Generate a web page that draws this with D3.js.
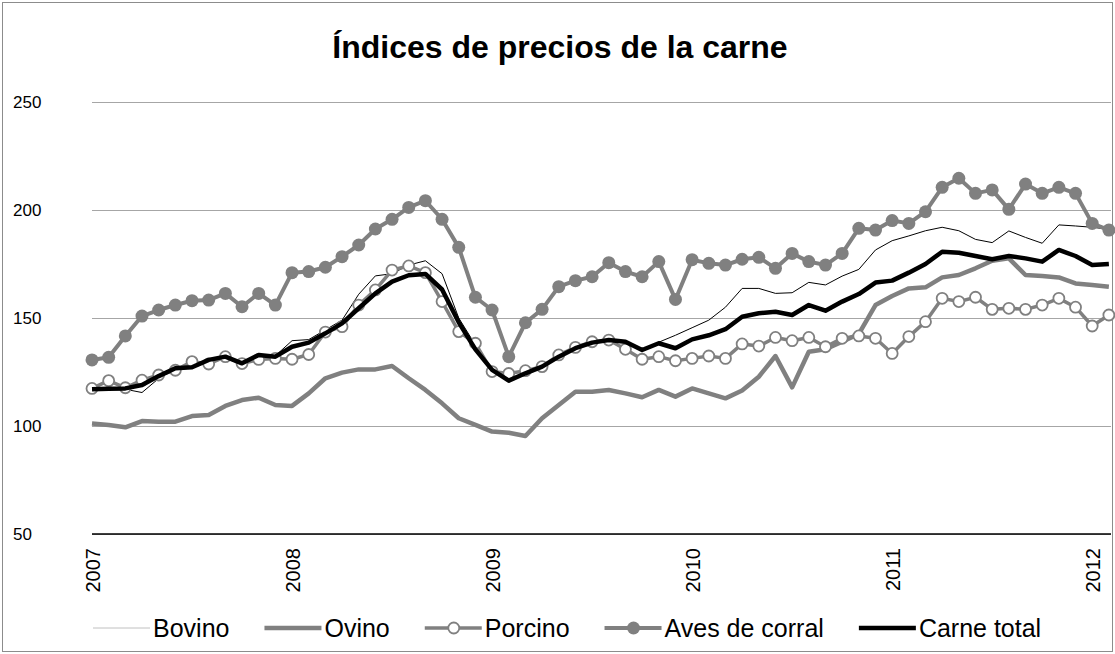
<!DOCTYPE html>
<html>
<head>
<meta charset="utf-8">
<script src="https://cdn.jsdelivr.net/npm/d3@7"></script>
<style>
  body { margin: 0; background: #fff; }
  text { font-family: "Liberation Sans", Arial, sans-serif; }
</style>
</head>
<body>
<div id="canvas"></div>
<script>
// monthly index values, Jan 2007 - Feb 2012
const yearLabels = ["2007", "2008", "2009", "2010", "2011", "2012"];
const yTicks = [50, 100, 150, 200, 250];

const bovino = [117, 117.5, 117, 115.5, 122, 126.5, 127.5, 130.5, 132, 129.5, 133, 132.5, 139.5,
  140, 144.5, 149, 161, 169.5, 170.5, 174.5, 176.5, 170.5, 150, 137.5, 126.5,
  121, 124.5, 128, 132.5, 136.5, 139, 140, 139, 135.5, 138.8, 142,
  145.5, 149, 155, 163.7, 163.7, 161.4, 161.7, 166.5, 165.3, 169.4, 172.5, 181.5, 185.8,
  188, 190.4, 192, 190.4, 186.4, 184.9, 190.3, 187.3, 184.6, 193.1, 192.6, 192, 191.1];

const ovino = [101.2, 100.5, 99.4, 102.3, 102, 102, 104.6, 105.1, 109.3, 112, 113.1, 109.7, 109.3,
  115.1, 122.1, 124.7, 126.2, 126.2, 127.8, 122.1, 116.7, 110.5, 103.6, 100.5, 97.4,
  96.9, 95.4, 103.6, 109.7, 115.9, 115.9, 116.7, 115.1, 113.3, 116.7, 113.6,
  117.4, 115.1, 112.8, 116.4, 122.8, 132.4, 117.9, 134.4, 135.5, 139, 142.6, 156, 160.2,
  163.7, 164.2, 168.8, 169.9, 173, 176.5, 177.6, 169.9, 169.4, 168.8, 166, 165.3, 164.5];

const porcino = [117.4, 121, 117.7, 121.2, 123.6, 125.8, 129.8, 128.7, 132.1, 128.9, 130.8, 131.3, 130.9,
  133.1, 143.5, 146, 156, 163, 172.2, 174.1, 171, 157.6, 143.7, 138.3, 125.2,
  124.3, 125.6, 127.5, 132.9, 136.4, 139, 139.8, 135.5, 130.9, 132.1, 130.2,
  131.3, 132.4, 131.3, 138, 137, 141, 139.5, 141, 136.7, 140.6, 141.7, 140.6, 133.6,
  141.4, 148.3, 159.1, 157.6, 159.6, 154, 154.5, 154, 156, 159.1, 155, 146.3, 151.4];

const aves = [130.6, 131.8, 141.7, 150.9, 153.7, 156, 158, 158.3, 161.4, 155.2, 161.4, 156, 171,
  171.5, 173.5, 178.4, 183.8, 191.2, 195.7, 201.2, 204.3, 195.7, 182.7, 159.6, 153.7,
  132.1, 147.8, 154, 164.5, 167.3, 169.1, 175.6, 171.5, 169.1, 176.1, 158.6,
  177, 175.3, 174.5, 177.2, 178.1, 173, 179.9, 176.1, 174.5, 179.9, 191.5, 190.7, 195.1,
  193.8, 199.2, 210.5, 214.7, 207.7, 209.3, 200.3, 212, 207.7, 210.5, 207.7, 193.8, 190.7];

const carneTotal = [117, 117.3, 117.4, 119, 123.1, 126.7, 127.2, 130.6, 132.1, 129, 132.9, 132.1, 136.7,
  138.6, 142.9, 147.5, 154.5, 161.4, 166.8, 169.8, 170.4, 163.2, 148, 135.5, 126,
  121, 124.4, 127.5, 132.1, 136, 138.6, 139.8, 139, 135.2, 138.3, 136,
  140.1, 142, 144.8, 150.6, 152.2, 152.9, 151.4, 156, 153.4, 157.6, 161.1, 166.4, 167.3,
  171, 175, 180.7, 180.2, 178.7, 177.2, 178.7, 177.6, 176.1, 181.5, 178.7, 174.5, 175];

const seriesNames = ["Bovino", "Ovino", "Porcino", "Aves de corral", "Carne total"];
const seriesData = [bovino, ovino, porcino, aves, carneTotal];

const width = 1115, height = 654;
const margin = { top: 102, right: 6, bottom: 120, left: 92 };
const grey = "#808080";

const styles = [
  { stroke: "#000", width: 1, marker: null },
  { stroke: grey, width: 4.5, marker: null },
  { stroke: grey, width: 3.5, marker: "open" },
  { stroke: grey, width: 4, marker: "filled" },
  { stroke: "#000", width: 4.5, marker: null }
];

const svg = d3.select("#canvas").append("svg")
  .attr("width", width)
  .attr("height", height);

svg.append("rect")
  .attr("x", 2.5).attr("y", 2.5)
  .attr("width", width - 5).attr("height", height - 5)
  .attr("fill", "#fff")
  .attr("stroke", "#8c8c8c");

svg.append("text")
  .attr("x", 560).attr("y", 58)
  .attr("text-anchor", "middle")
  .attr("font-size", 32)
  .attr("font-weight", "bold")
  .text("Índices de precios de la carne");

const x = d3.scaleLinear()
  .domain([0, bovino.length - 1])
  .range([margin.left, margin.left + 61 * 16.67]);

const y = d3.scaleLinear()
  .domain([50, 250])
  .range([534, 102]);

// y axis + gridlines
const yAxis = svg.append("g")
  .attr("transform", `translate(${margin.left},0)`)
  .call(d3.axisLeft(y).tickValues(yTicks).tickSize(-(width - margin.left - 4)));
yAxis.select(".domain").remove();
yAxis.selectAll(".tick line").attr("stroke", "#a6a6a6");
yAxis.selectAll(".tick text")
  .attr("font-size", 17)
  .attr("fill", "#000")
  .attr("text-anchor", "start")
  .attr("x", -79);

// x axis
const xAxis = svg.append("g")
  .attr("transform", `translate(0,${y(50)})`)
  .call(d3.axisBottom(x).tickValues([0, 12, 24, 36, 48, 60]).tickFormat((d, i) => yearLabels[i]).tickSize(0));
xAxis.select(".domain")
  .attr("d", `M${margin.left},0H${width - 4}`)
  .attr("stroke", "#000")
  .attr("stroke-width", 1.5);
xAxis.selectAll(".tick text")
  .attr("font-size", 20)
  .attr("fill", "#000")
  .attr("transform", "rotate(-90)")
  .attr("text-anchor", "end")
  .attr("x", -14)
  .attr("y", 0)
  .attr("dy", "0.35em");

const line = d3.line()
  .x((d, i) => x(i))
  .y(d => y(d));

seriesData.forEach((data, k) => {
  const st = styles[k];
  svg.append("path")
    .datum(data)
    .attr("fill", "none")
    .attr("stroke", st.stroke)
    .attr("stroke-width", st.width)
    .attr("stroke-linejoin", "round")
    .attr("d", line);

  if (st.marker) {
    svg.append("g").selectAll("circle")
      .data(data)
      .enter().append("circle")
      .attr("cx", (d, i) => x(i))
      .attr("cy", d => y(d))
      .attr("r", st.marker === "open" ? 5.5 : 6.5)
      .attr("fill", st.marker === "open" ? "#fff" : grey)
      .attr("stroke", grey)
      .attr("stroke-width", st.marker === "open" ? 1.8 : 0);
  }
});

// legend, laid out left to right from text widths
const legendY = 628;
let lx = 93;
seriesNames.forEach((name, k) => {
  const st = styles[k];
  const g = svg.append("g").attr("transform", `translate(${lx},${legendY})`);
  g.append("line")
    .attr("x1", 0).attr("x2", 57)
    .attr("stroke", k === 0 ? "#c0c0c0" : st.stroke)
    .attr("stroke-width", st.width);
  if (st.marker) {
    g.append("circle")
      .attr("cx", 29).attr("cy", 0)
      .attr("r", st.marker === "open" ? 5.5 : 6.5)
      .attr("fill", st.marker === "open" ? "#fff" : grey)
      .attr("stroke", grey)
      .attr("stroke-width", st.marker === "open" ? 1.8 : 0);
  }
  const t = g.append("text")
    .attr("x", 60)
    .attr("dy", "0.35em")
    .attr("font-size", 25)
    .text(name);
  lx += 60 + t.node().getComputedTextLength() + 35;
});
</script>
</body>
</html>
